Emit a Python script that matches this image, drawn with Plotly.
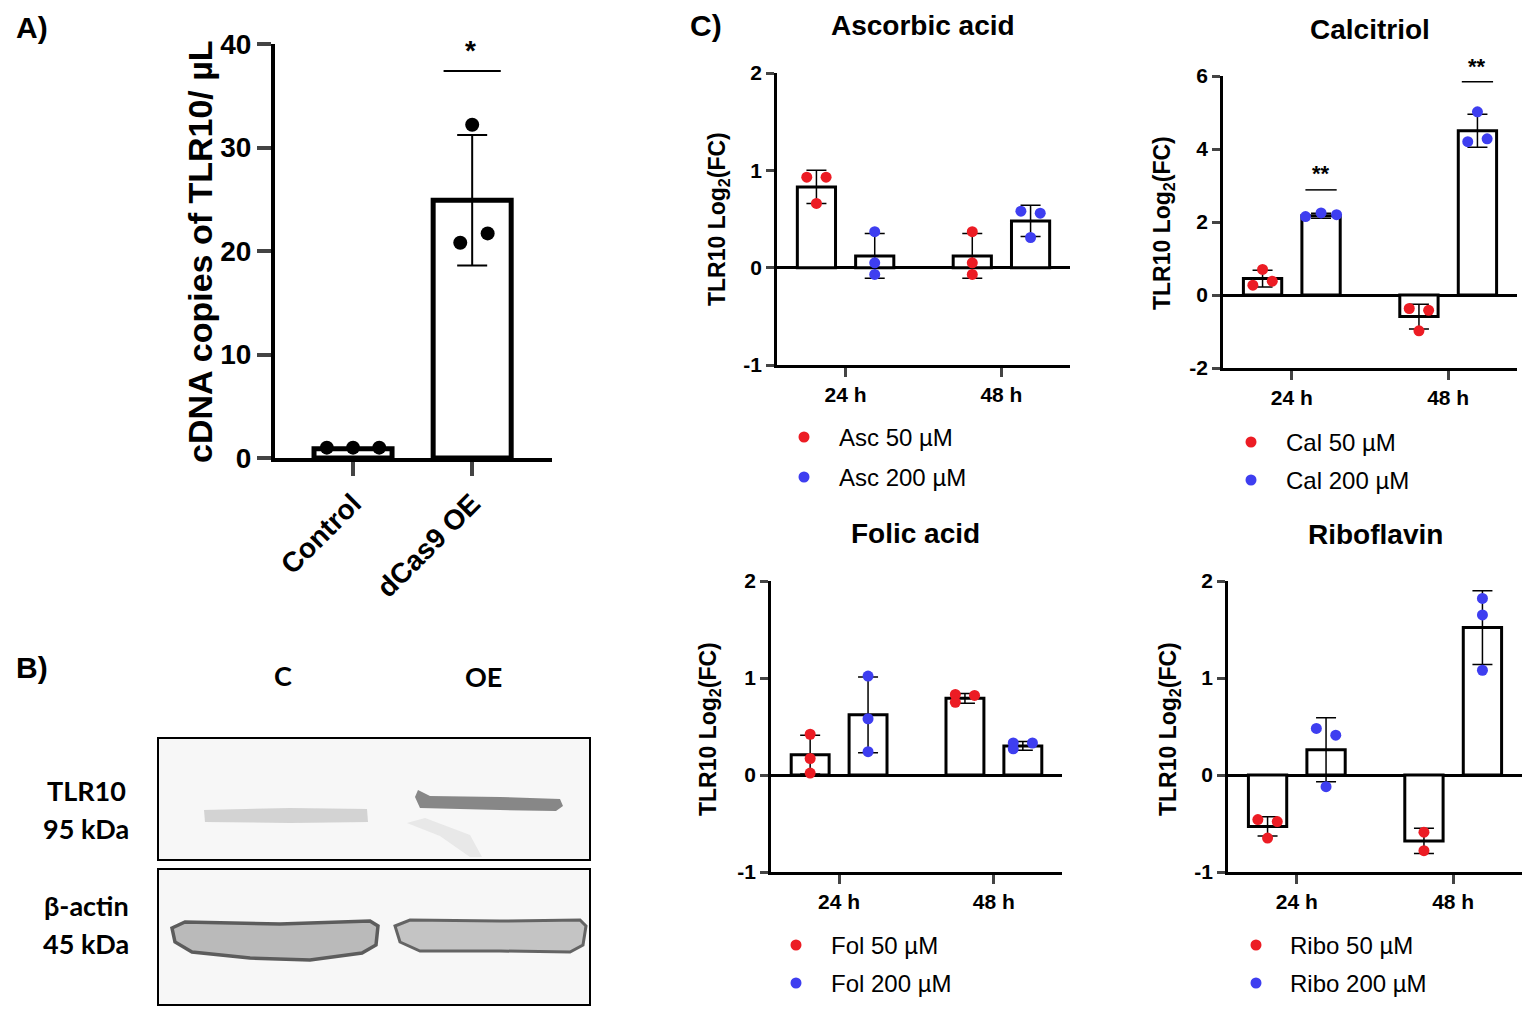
"""
plot.py - TLR10 activation panels: ddPCR copies (A), western blot (B), vitamin treatments (C).
"""
import plotly.graph_objects as go

W, H = 1535, 1018
PAGE_PAD = 8  # the html body adds an 8px margin around the figure
FONT = "Liberation Sans, Arial, sans-serif"
BLOT_FONT = "Lato, Open Sans, sans-serif"
RED = "rgb(236,28,36)"
BLUE = "rgb(62,62,240)"

# ---- panel A: cDNA copies of TLR10 / uL
a_groups = ["Control", "dCas9 OE"]
a_mean = [0.9, 24.9]
a_sd = [0.05, 6.3]
a_points = [[1.0, 1.0, 1.0], [32.2, 21.7, 20.8]]

# ---- panel C: TLR10 log2(FC), 50 uM vs 200 uM at 24 h / 48 h
c_times = ["24 h", "48 h"]
c_ticks_small = [-1, 0, 1, 2]
c_ticks_cal = [-2, 0, 2, 4, 6]

asc_50_mean = [0.83, 0.12]
asc_50_sd = [0.17, 0.23]
asc_50_pts = [[0.93, 0.93, 0.66], [0.37, 0.05, -0.07]]
asc_200_mean = [0.12, 0.48]
asc_200_sd = [0.23, 0.16]
asc_200_pts = [[0.37, 0.05, -0.07], [0.58, 0.56, 0.31]]

cal_50_mean = [0.45, -0.59]
cal_50_sd = [0.23, 0.34]
cal_50_pts = [[0.70, 0.27, 0.38], [-0.37, -0.42, -0.98]]
cal_200_mean = [2.17, 4.50]
cal_200_sd = [0.07, 0.45]
cal_200_pts = [[2.15, 2.25, 2.20], [5.02, 4.20, 4.28]]

fol_50_mean = [0.21, 0.79]
fol_50_sd = [0.20, 0.05]
fol_50_pts = [[0.42, 0.17, 0.02], [0.83, 0.75, 0.82]]
fol_200_mean = [0.62, 0.30]
fol_200_sd = [0.39, 0.045]
fol_200_pts = [[1.02, 0.58, 0.24], [0.33, 0.27, 0.33]]

ribo_50_mean = [-0.53, -0.68]
ribo_50_sd = [0.10, 0.13]
ribo_50_pts = [[-0.46, -0.48, -0.65], [-0.59, -0.78]]
ribo_200_mean = [0.26, 1.52]
ribo_200_sd = [0.33, 0.38]
ribo_200_pts = [[0.48, 0.41, -0.12], [1.82, 1.65, 1.08]]

# dot scatter pattern (-1 left, 0 centre, 1 right) - purely cosmetic
jit = {
    "asc_50": [[-1, 1, 0], [0, 0, 0]], "asc_200": [[0, 0, 0], [-1, 1, 0]],
    "cal_50": [[0, -1, 1], [-1, 1, 0]], "cal_200": [[-1.6, 0, 1.6], [0, -1, 1]],
    "fol_50": [[0, 0, 0], [-1, -1, 1]], "fol_200": [[0, 0, 0], [-1, -1, 1]],
    "ribo_50": [[-1, 1, 0], [0, 0]], "ribo_200": [[-1, 1, 0], [0, 0, 0]],
}


def px(x):
    return (x - PAGE_PAD) / W


def py(y):
    return 1 - (y - PAGE_PAD) / H


def note(text, x, y, size, family=FONT, **kw):
    d = dict(x=px(x), y=py(y), xref="paper", yref="paper", text=text, showarrow=False,
             xanchor="center", yanchor="middle", font=dict(size=size, family=family, color="black"))
    d.update(kw)
    return d


fig = go.Figure()
shapes, annots = [], []

# ================= panel A =================
fig.add_trace(go.Bar(
    x=[0, 1], y=a_mean, width=0.655, xaxis="x", yaxis="y",
    marker=dict(color="white", line=dict(color="black", width=5)), showlegend=False,
))
fig.add_trace(go.Scatter(
    x=[0, 1], y=a_mean, mode="markers", marker=dict(opacity=0), xaxis="x", yaxis="y",
    error_y=dict(type="data", array=a_sd, color="black", thickness=2, width=15), showlegend=False,
))
a_jit = [[-0.22, 0, 0.22], [0, 0.13, -0.1]]
for i, pts in enumerate(a_points):
    fig.add_trace(go.Scatter(
        x=[i + j for j in a_jit[i]], y=pts, mode="markers", xaxis="x", yaxis="y",
        marker=dict(color="black", size=14), showlegend=False,
    ))
# significance bar
fig.add_trace(go.Scatter(x=[0.76, 1.24], y=[37.4, 37.4], mode="lines", xaxis="x", yaxis="y",
                         line=dict(color="black", width=2), showlegend=False))
annots.append(note("<b>*</b>", 470, 50, 28))

layout_axes = dict(
    xaxis=dict(domain=[px(275), px(552)], range=[-0.655, 1.67], anchor="y",
               tickvals=[0, 1], ticktext=a_groups, tickangle=-45,
               ticks="outside", ticklen=14, tickwidth=4, showline=True, linewidth=4, linecolor="black",
               showgrid=False, zeroline=False,
               tickfont=dict(size=28, family=FONT, color="black", weight="bold")),
    yaxis=dict(domain=[py(458), py(44)], range=[0, 40], anchor="x", dtick=10,
               ticks="outside", ticklen=14, tickwidth=4, showline=True, linewidth=4, linecolor="black",
               showgrid=False, zeroline=False,
               tickfont=dict(size=28, family=FONT, color="black", weight="bold")),
)
annots.append(note("<b>cDNA copies of TLR10/ µL</b>", 200, 252, 34, textangle=-90))

# ================= panel C =================
panels = [
    dict(n="2", title="Ascorbic acid", tag="Asc", key="asc", box=(777, 1070, 73, 365), yr=[-1, 2],
         yt=c_ticks_small, tx=(923, 25), ytx=(718, 219), leg=(804, 837, 437, 477),
         s50=(asc_50_mean, asc_50_sd, asc_50_pts), s200=(asc_200_mean, asc_200_sd, asc_200_pts), sig=[]),
    dict(n="3", title="Calcitriol", tag="Cal", key="cal", box=(1223, 1517, 76, 368), yr=[-2, 6],
         yt=c_ticks_cal, tx=(1370, 30), ytx=(1164, 223), leg=(1251, 1284, 442, 480),
         s50=(cal_50_mean, cal_50_sd, cal_50_pts), s200=(cal_200_mean, cal_200_sd, cal_200_pts),
         sig=[(0, 2.88, 3.33), (1, 5.84, 6.27)]),
    dict(n="4", title="Folic acid", tag="Fol", key="fol", box=(771, 1062, 581, 872), yr=[-1, 2],
         yt=c_ticks_small, tx=(915, 533), ytx=(709, 729), leg=(796, 829, 945, 983),
         s50=(fol_50_mean, fol_50_sd, fol_50_pts), s200=(fol_200_mean, fol_200_sd, fol_200_pts), sig=[]),
    dict(n="5", title="Riboflavin", tag="Ribo", key="ribo", box=(1228, 1522, 581, 872), yr=[-1, 2],
         yt=c_ticks_small, tx=(1375, 534), ytx=(1169, 729), leg=(1256, 1288, 945, 983),
         s50=(ribo_50_mean, ribo_50_sd, ribo_50_pts), s200=(ribo_200_mean, ribo_200_sd, ribo_200_pts),
         sig=[]),
]

OFF, BW, DJ = 0.187, 0.245, 0.062
XR = [-0.44, 1.44]
for p in panels:
    n = p["n"]
    xa, ya = "x" + n, "y" + n
    x0, x1, y0, y1 = p["box"]
    for dose, color, sign in (("50", RED, -1), ("200", BLUE, 1)):
        mean, sd, pts = p["s" + dose]
        xs = [g + sign * OFF for g in range(len(c_times))]
        fig.add_trace(go.Bar(
            x=xs, y=mean, width=BW, xaxis=xa, yaxis=ya, showlegend=False,
            marker=dict(color="white", line=dict(color="black", width=3)),
        ))
        fig.add_trace(go.Scatter(
            x=xs, y=mean, mode="markers", marker=dict(opacity=0), xaxis=xa, yaxis=ya, showlegend=False,
            error_y=dict(type="data", array=sd, color="black", thickness=1.5, width=10),
        ))
        jj = jit[p["key"] + "_" + dose]
        dx, dy = [], []
        for g, vals in enumerate(pts):
            for k, v in enumerate(vals):
                dx.append(xs[g] + jj[g][k] * DJ)
                dy.append(v)
        fig.add_trace(go.Scatter(
            x=dx, y=dy, mode="markers", xaxis=xa, yaxis=ya, showlegend=False,
            name=f"{p['tag']} {dose} µM", marker=dict(color=color, size=11),
        ))
    for g, yl, ys in p["sig"]:
        fig.add_trace(go.Scatter(x=[g + OFF - 0.1, g + OFF + 0.1], y=[yl, yl], mode="lines",
                                 xaxis=xa, yaxis=ya, line=dict(color="black", width=1.5), showlegend=False))
        # star label may sit above the axis range, so place it in page units
        sx = x0 + (g + OFF - XR[0]) / (XR[1] - XR[0]) * (x1 - x0)
        sy = y0 + (p["yr"][1] - ys) / (p["yr"][1] - p["yr"][0]) * (y1 - y0)
        annots.append(note("<b>**</b>", sx, sy, 22))

    layout_axes["xaxis" + n] = dict(
        domain=[px(x0), px(x1)], range=XR, anchor=ya,
        tickvals=[0, 1], ticktext=c_times, ticks="outside", ticklen=9, tickwidth=2.5,
        showline=True, linewidth=2.5, linecolor="black", showgrid=False, zeroline=False,
        tickfont=dict(size=21, family=FONT, color="black", weight="bold"))
    layout_axes["yaxis" + n] = dict(
        domain=[py(y1), py(y0)], range=p["yr"], anchor=xa,
        tickvals=p["yt"], ticktext=[str(v) for v in p["yt"]],
        ticks="outside", ticklen=8, tickwidth=2.5,
        showline=True, linewidth=2.5, linecolor="black", showgrid=False,
        zeroline=True, zerolinewidth=2.5, zerolinecolor="black",
        tickfont=dict(size=21, family=FONT, color="black", weight="bold"))

    annots.append(note(f"<b>{p['title']}</b>", p["tx"][0], p["tx"][1], 28))
    annots.append(note("<b>TLR10 Log<sub>2</sub>(FC)</b>", p["ytx"][0], p["ytx"][1], 23, textangle=-90))
    # legend
    dxp, txp, l50, l200 = p["leg"]
    for ly, color, dose in ((l50, RED, "50"), (l200, BLUE, "200")):
        r = 5.5
        shapes.append(dict(type="circle", xref="paper", yref="paper",
                           x0=px(dxp - r), x1=px(dxp + r), y0=py(ly + r), y1=py(ly - r),
                           fillcolor=color, line=dict(width=0)))
        annots.append(note(f"{p['tag']} {dose} µM", txp, ly, 24, xanchor="left"))


# ================= panel B: western blot (drawn) =================
def path(points):
    s = "M " + " L ".join(f"{px(x):.5f},{py(y):.5f}" for x, y in points)
    return s + " Z"


for (bx0, by0, bx1, by1) in ((158, 738, 590, 860), (158, 869, 590, 1005)):
    shapes.append(dict(type="rect", xref="paper", yref="paper", x0=px(bx0), x1=px(bx1),
                       y0=py(by1), y1=py(by0), fillcolor="rgb(247,247,247)",
                       line=dict(color="black", width=2)))

# TLR10 bands
shapes.append(dict(type="path", xref="paper", yref="paper",
                   path=path([(204, 810), (290, 808), (367, 809), (368, 822), (290, 823), (205, 822)]),
                   fillcolor="rgba(175,175,175,0.5)", line=dict(width=0)))
shapes.append(dict(type="path", xref="paper", yref="paper",
                   path=path([(415, 797), (418, 790), (430, 796), (500, 797), (560, 799), (563, 806),
                              (556, 811), (500, 810), (420, 808)]),
                   fillcolor="rgba(115,115,115,0.85)", line=dict(width=0)))
shapes.append(dict(type="path", xref="paper", yref="paper",
                   path=path([(407, 823), (425, 818), (470, 835), (482, 857), (470, 857), (440, 836)]),
                   fillcolor="rgba(228,228,228,0.8)", line=dict(width=0)))
# beta-actin bands
shapes.append(dict(type="path", xref="paper", yref="paper",
                   path=path([(172, 928), (185, 922), (280, 924), (370, 921), (378, 926), (376, 945),
                              (362, 953), (310, 960), (250, 958), (192, 952), (175, 942)]),
                   fillcolor="rgb(186,186,186)", line=dict(color="rgb(92,92,92)", width=3.5)))
shapes.append(dict(type="path", xref="paper", yref="paper",
                   path=path([(395, 926), (410, 920), (500, 921), (580, 920), (586, 926), (583, 945),
                              (570, 952), (500, 951), (420, 951), (400, 942)]),
                   fillcolor="rgb(196,196,196)", line=dict(color="rgb(100,100,100)", width=3)))

blot_text = [("C", 283, 675), ("OE", 483, 676), ("TLR10", 86, 790), ("95 kDa", 86, 828),
             ("β-actin", 86, 905), ("45 kDa", 86, 943)]
for t, x, y in blot_text:
    annots.append(note(f"<b>{t}</b>", x, y, 27, family=BLOT_FONT))

# panel letters
for t, x, y in (("A)", 32, 28), ("B)", 32, 667), ("C)", 706, 25)):
    annots.append(note(f"<b>{t}</b>", x, y, 30))

fig.update_layout(
    width=W, height=H, margin=dict(l=0, r=0, t=0, b=0, autoexpand=False),
    paper_bgcolor="white", plot_bgcolor="white", showlegend=False,
    shapes=shapes, annotations=annots, **layout_axes,
)

fig.write_html("out.html")
